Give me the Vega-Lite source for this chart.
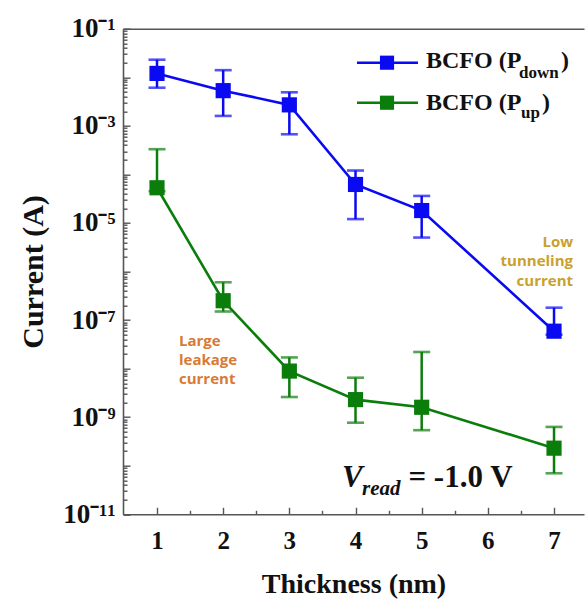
{
  "$schema": "https://vega.github.io/schema/vega-lite/v6.json",
  "width": 461,
  "height": 485.6,
  "autosize": {"type": "none"},
  "padding": {"left": 123, "top": 28.7, "right": 2, "bottom": 95.7},
  "background": "white",
  "config": {
    "view": {"stroke": null},
    "axis": {
      "grid": false,
      "domainColor": "#555555",
      "domainWidth": 1.6,
      "tickColor": "#555555",
      "tickWidth": 1.4,
      "labelFont": "Liberation Serif",
      "labelFontWeight": "bold",
      "labelColor": "#111111",
      "titleFont": "Liberation Serif",
      "titleFontWeight": "bold",
      "titleColor": "#111111"
    }
  },
  "datasets": {
    "iv": [
      {"thickness": 1, "state": "Pdown", "current": 1.2e-2, "low": 6.1e-3, "high": 2.3e-2},
      {"thickness": 2, "state": "Pdown", "current": 5.3e-3, "low": 1.6e-3, "high": 1.4e-2},
      {"thickness": 3, "state": "Pdown", "current": 2.7e-3, "low": 6.7e-4, "high": 4.9e-3},
      {"thickness": 4, "state": "Pdown", "current": 6.2e-5, "low": 1.2e-5, "high": 1.2e-4},
      {"thickness": 5, "state": "Pdown", "current": 1.8e-5, "low": 5.0e-6, "high": 3.6e-5},
      {"thickness": 7, "state": "Pdown", "current": 5.9e-8, "low": 5.0e-8, "high": 1.8e-7},
      {"thickness": 1, "state": "Pup", "current": 5.3e-5, "low": 4.5e-5, "high": 3.3e-4},
      {"thickness": 2, "state": "Pup", "current": 2.5e-7, "low": 1.5e-7, "high": 6.0e-7},
      {"thickness": 3, "state": "Pup", "current": 8.9e-9, "low": 2.6e-9, "high": 1.7e-8},
      {"thickness": 4, "state": "Pup", "current": 2.3e-9, "low": 7.7e-10, "high": 6.5e-9},
      {"thickness": 5, "state": "Pup", "current": 1.6e-9, "low": 5.4e-10, "high": 2.2e-8},
      {"thickness": 7, "state": "Pup", "current": 2.3e-10, "low": 7.0e-11, "high": 6.3e-10}
    ]
  },
  "layer": [
    {
      "data": {"name": "iv"},
      "mark": {"type": "rule", "strokeWidth": 2.5},
      "encoding": {
        "x": {
          "field": "thickness", "type": "quantitative",
          "scale": {"domain": [0.486, 7.453], "nice": false, "zero": false},
          "axis": {"orient": "bottom", "values": [1.5, 2.5, 3.5, 4.5, 5.5, 6.5], "tickSize": -4, "labels": false, "domain": false, "title": null}
        },
        "y": {
          "field": "low", "type": "quantitative",
          "scale": {"type": "log", "domain": [1e-11, 0.1], "nice": false},
          "axis": {
            "orient": "left",
            "values": [2e-11, 3e-11, 4e-11, 5e-11, 6e-11, 7e-11, 8e-11, 9e-11,
                       2e-10, 3e-10, 4e-10, 5e-10, 6e-10, 7e-10, 8e-10, 9e-10,
                       2e-9, 3e-9, 4e-9, 5e-9, 6e-9, 7e-9, 8e-9, 9e-9,
                       2e-8, 3e-8, 4e-8, 5e-8, 6e-8, 7e-8, 8e-8, 9e-8,
                       2e-7, 3e-7, 4e-7, 5e-7, 6e-7, 7e-7, 8e-7, 9e-7,
                       2e-6, 3e-6, 4e-6, 5e-6, 6e-6, 7e-6, 8e-6, 9e-6,
                       2e-5, 3e-5, 4e-5, 5e-5, 6e-5, 7e-5, 8e-5, 9e-5,
                       2e-4, 3e-4, 4e-4, 5e-4, 6e-4, 7e-4, 8e-4, 9e-4,
                       2e-3, 3e-3, 4e-3, 5e-3, 6e-3, 7e-3, 8e-3, 9e-3,
                       2e-2, 3e-2, 4e-2, 5e-2, 6e-2, 7e-2, 8e-2, 9e-2],
            "tickSize": -4, "labels": false, "domain": false, "title": null
          }
        },
        "y2": {"field": "high"},
        "color": {"field": "state", "type": "nominal", "scale": {"domain": ["Pdown", "Pup"], "range": ["#0a0af2", "#0b7d0b"]}, "legend": null}
      }
    },
    {
      "data": {"name": "iv"},
      "mark": {"type": "tick", "orient": "horizontal", "size": 17, "thickness": 2.6},
      "encoding": {
        "x": {"field": "thickness", "type": "quantitative", "axis": null},
        "y": {"field": "low", "type": "quantitative", "axis": null},
        "color": {"field": "state", "type": "nominal", "legend": null}
      }
    },
    {
      "data": {"name": "iv"},
      "mark": {"type": "tick", "orient": "horizontal", "size": 17, "thickness": 2.6},
      "encoding": {
        "x": {"field": "thickness", "type": "quantitative", "axis": null},
        "y": {"field": "high", "type": "quantitative", "axis": null},
        "color": {"field": "state", "type": "nominal", "legend": null}
      }
    },
    {
      "data": {"name": "iv"},
      "mark": {"type": "line", "strokeWidth": 2.6},
      "encoding": {
        "x": {"field": "thickness", "type": "quantitative",
              "axis": {"orient": "top", "ticks": false, "labels": false, "domain": true, "title": null}},
        "y": {"field": "current", "type": "quantitative", "axis": null},
        "color": {"field": "state", "type": "nominal", "legend": null}
      }
    },
    {
      "data": {"name": "iv"},
      "mark": {"type": "point", "shape": "square", "filled": true, "opacity": 1, "size": 230},
      "encoding": {
        "x": {
          "field": "thickness", "type": "quantitative",
          "axis": {"orient": "bottom", "values": [1, 2, 3, 4, 5, 6, 7], "tickSize": -7, "labelPadding": 21, "labelFontSize": 25, "labelFlush": false, "labelOverlap": false, "title": "Thickness (nm)", "titleFontSize": 28, "titlePadding": 17}
        },
        "y": {
          "field": "current", "type": "quantitative",
          "axis": {
            "orient": "left",
            "values": [1e-11, 1e-10, 1e-9, 1e-8, 1e-7, 1e-6, 1e-5, 1e-4, 1e-3, 1e-2, 1e-1],
            "tickSize": -7, "labelPadding": 15, "labelFontSize": 27, "labelFlush": false, "labelOverlap": false,
            "labelExpr": "round(log(datum.value)/LN10) == -1 ? '10⁻¹' : round(log(datum.value)/LN10) == -3 ? '10⁻³' : round(log(datum.value)/LN10) == -5 ? '10⁻⁵' : round(log(datum.value)/LN10) == -7 ? '10⁻⁷' : round(log(datum.value)/LN10) == -9 ? '10⁻⁹' : round(log(datum.value)/LN10) == -11 ? '10⁻¹¹' : ''",
            "title": "Current (A)", "titleFontSize": 30, "titlePadding": 14
          }
        },
        "color": {"field": "state", "type": "nominal", "legend": null}
      }
    },
    {
      "data": {"values": [{}]},
      "mark": {"type": "rule", "strokeWidth": 2.6, "color": "#0a0af2"},
      "encoding": {
        "x": {"datum": 4.022, "type": "quantitative", "axis": null},
        "x2": {"datum": 4.944},
        "y": {"datum": 0.01995, "type": "quantitative", "axis": null}
      }
    },
    {
      "data": {"values": [{}]},
      "mark": {"type": "rule", "strokeWidth": 2.6, "color": "#0b7d0b"},
      "encoding": {
        "x": {"datum": 4.022, "type": "quantitative", "axis": null},
        "x2": {"datum": 4.944},
        "y": {"datum": 0.00299, "type": "quantitative", "axis": null}
      }
    },
    {
      "data": {"values": [{}]},
      "mark": {"type": "point", "shape": "square", "filled": true, "opacity": 1, "size": 200, "color": "#0a0af2"},
      "encoding": {
        "x": {"datum": 4.476, "type": "quantitative", "axis": null},
        "y": {"datum": 0.01995, "type": "quantitative", "axis": null}
      }
    },
    {
      "data": {"values": [{}]},
      "mark": {"type": "point", "shape": "square", "filled": true, "opacity": 1, "size": 200, "color": "#0b7d0b"},
      "encoding": {
        "x": {"datum": 4.476, "type": "quantitative", "axis": null},
        "y": {"datum": 0.00299, "type": "quantitative", "axis": null}
      }
    },
    {
      "data": {"values": [{}]},
      "mark": {"type": "text", "text": "BCFO (P", "font": "Liberation Serif", "fontWeight": "bold", "fontSize": 24, "align": "left", "baseline": "alphabetic", "color": "#111111"},
      "encoding": {
        "x": {"datum": 5.065, "type": "quantitative", "axis": null},
        "y": {"datum": 0.0155, "type": "quantitative", "axis": null}
      }
    },
    {
      "data": {"values": [{}]},
      "mark": {"type": "text", "text": "down", "font": "Liberation Serif", "fontWeight": "bold", "fontSize": 17, "align": "left", "baseline": "alphabetic", "color": "#111111"},
      "encoding": {
        "x": {"datum": 6.47, "type": "quantitative", "axis": null},
        "y": {"datum": 0.00966, "type": "quantitative", "axis": null}
      }
    },
    {
      "data": {"values": [{}]},
      "mark": {"type": "text", "text": ")", "font": "Liberation Serif", "fontWeight": "bold", "fontSize": 24, "align": "left", "baseline": "alphabetic", "color": "#111111"},
      "encoding": {
        "x": {"datum": 7.105, "type": "quantitative", "axis": null},
        "y": {"datum": 0.0155, "type": "quantitative", "axis": null}
      }
    },
    {
      "data": {"values": [{}]},
      "mark": {"type": "text", "text": "BCFO (P", "font": "Liberation Serif", "fontWeight": "bold", "fontSize": 24, "align": "left", "baseline": "alphabetic", "color": "#111111"},
      "encoding": {
        "x": {"datum": 5.065, "type": "quantitative", "axis": null},
        "y": {"datum": 0.00212, "type": "quantitative", "axis": null}
      }
    },
    {
      "data": {"values": [{}]},
      "mark": {"type": "text", "text": "up", "font": "Liberation Serif", "fontWeight": "bold", "fontSize": 17, "align": "left", "baseline": "alphabetic", "color": "#111111"},
      "encoding": {
        "x": {"datum": 6.501, "type": "quantitative", "axis": null},
        "y": {"datum": 0.001448, "type": "quantitative", "axis": null}
      }
    },
    {
      "data": {"values": [{}]},
      "mark": {"type": "text", "text": ")", "font": "Liberation Serif", "fontWeight": "bold", "fontSize": 24, "align": "left", "baseline": "alphabetic", "color": "#111111"},
      "encoding": {
        "x": {"datum": 6.818, "type": "quantitative", "axis": null},
        "y": {"datum": 0.00212, "type": "quantitative", "axis": null}
      }
    },
    {
      "data": {"values": [{}]},
      "mark": {"type": "text", "text": ["Large", "leakage", "current"], "lineHeight": 19, "font": "Open Sans", "fontWeight": "bold", "fontSize": 15, "align": "left", "baseline": "alphabetic", "color": "#d77a36"},
      "encoding": {
        "x": {"datum": 1.332, "type": "quantitative", "axis": null},
        "y": {"datum": 2.92e-8, "type": "quantitative", "axis": null}
      }
    },
    {
      "data": {"values": [{}]},
      "mark": {"type": "text", "text": ["Low", "tunneling", "current"], "lineHeight": 19.7, "font": "Open Sans", "fontWeight": "bold", "fontSize": 15, "align": "right", "baseline": "alphabetic", "color": "#c9a12e"},
      "encoding": {
        "x": {"datum": 7.287, "type": "quantitative", "axis": null},
        "y": {"datum": 3.24e-6, "type": "quantitative", "axis": null}
      }
    },
    {
      "data": {"values": [{}]},
      "mark": {"type": "text", "text": "V", "font": "Liberation Serif", "fontWeight": "bold", "fontStyle": "italic", "fontSize": 31, "align": "left", "baseline": "alphabetic", "color": "#111111"},
      "encoding": {
        "x": {"datum": 3.796, "type": "quantitative", "axis": null},
        "y": {"datum": 3.63e-11, "type": "quantitative", "axis": null}
      }
    },
    {
      "data": {"values": [{}]},
      "mark": {"type": "text", "text": "read", "font": "Liberation Serif", "fontWeight": "bold", "fontStyle": "italic", "fontSize": 21, "align": "left", "baseline": "alphabetic", "color": "#111111"},
      "encoding": {
        "x": {"datum": 4.098, "type": "quantitative", "axis": null},
        "y": {"datum": 2.48e-11, "type": "quantitative", "axis": null}
      }
    },
    {
      "data": {"values": [{}]},
      "mark": {"type": "text", "text": "= -1.0 V", "font": "Liberation Serif", "fontWeight": "bold", "fontSize": 31, "align": "left", "baseline": "alphabetic", "color": "#111111"},
      "encoding": {
        "x": {"datum": 4.80, "type": "quantitative", "axis": null},
        "y": {"datum": 3.63e-11, "type": "quantitative", "axis": null}
      }
    }
  ],
  "resolve": {"axis": {"x": "independent", "y": "independent"}}
}
